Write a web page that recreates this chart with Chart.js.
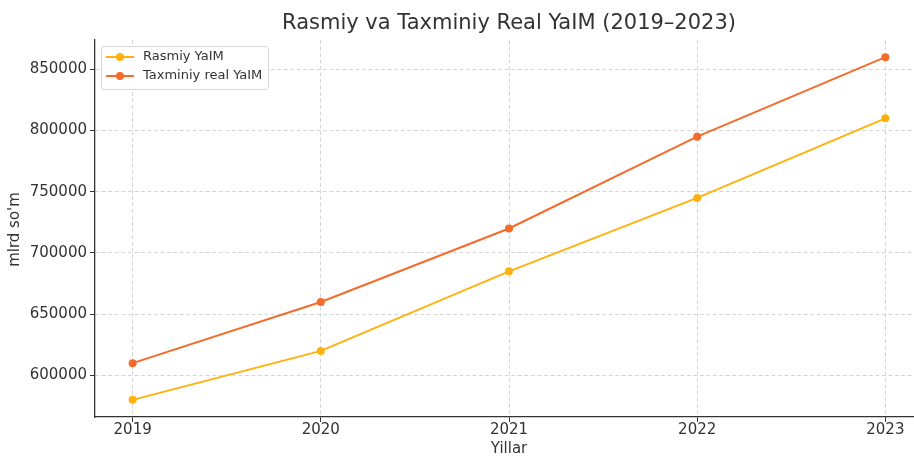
<!DOCTYPE html>
<html>
<head>
<meta charset="utf-8">
<script src="https://cdn.jsdelivr.net/npm/chart.js@4"></script>
<style>
html,body{margin:0;padding:0;overflow:hidden;background:#fff;}
#wrap{width:930px;height:456px;position:relative;}
</style>
</head>
<body>
<div id="wrap"><canvas id="c"></canvas></div>
<script>
const years = [2019, 2020, 2021, 2022, 2023];
const rasmiy = [580000, 620000, 685000, 745000, 810000];
const taxminiy = [610000, 660000, 720000, 795000, 860000];
const yTicks = [600000, 650000, 700000, 750000, 800000, 850000];
const titleText = 'Rasmiy va Taxminiy Real YaIM (2019–2023)';
const xTitle = 'Yillar';
const yTitle = "mlrd so'm";

const FONT = "'DejaVu Sans', sans-serif";
const TXT = '#333333';

const overlay = {
  id: 'overlay',
  afterDraw(chart) {
    const ctx = chart.ctx;
    const a = chart.chartArea;
    ctx.save();
    ctx.fillStyle = TXT;
    ctx.textAlign = 'center';
    ctx.textBaseline = 'middle';
    ctx.font = '21px ' + FONT;
    ctx.fillText(titleText, (a.left + a.right) / 2, 24);
    ctx.font = '15px ' + FONT;
    ctx.fillText(xTitle, (a.left + a.right) / 2, 449);
    ctx.translate(15.5, (a.top + a.bottom) / 2 + 1);
    ctx.rotate(-Math.PI / 2);
    ctx.fillText(yTitle, 0, 0);
    ctx.restore();

    // legend
    ctx.save();
    const bx = 101.5, by = 46.5, bw = 167, bh = 43, r = 3;
    ctx.beginPath();
    ctx.moveTo(bx + r, by);
    ctx.lineTo(bx + bw - r, by);
    ctx.quadraticCurveTo(bx + bw, by, bx + bw, by + r);
    ctx.lineTo(bx + bw, by + bh - r);
    ctx.quadraticCurveTo(bx + bw, by + bh, bx + bw - r, by + bh);
    ctx.lineTo(bx + r, by + bh);
    ctx.quadraticCurveTo(bx, by + bh, bx, by + bh - r);
    ctx.lineTo(bx, by + r);
    ctx.quadraticCurveTo(bx, by, bx + r, by);
    ctx.closePath();
    ctx.fillStyle = 'rgba(255,255,255,0.85)';
    ctx.fill();
    ctx.strokeStyle = '#d6d6d6';
    ctx.lineWidth = 1;
    ctx.stroke();
    chart.data.datasets.forEach((ds, i) => {
      const y = 57 + i * 19;
      ctx.strokeStyle = ds.borderColor;
      ctx.lineWidth = 2;
      ctx.beginPath();
      ctx.moveTo(106, y);
      ctx.lineTo(134, y);
      ctx.stroke();
      ctx.fillStyle = ds.borderColor;
      ctx.beginPath();
      ctx.arc(120, y, 4, 0, Math.PI * 2);
      ctx.fill();
      ctx.fillStyle = TXT;
      ctx.font = '13px ' + FONT;
      ctx.textAlign = 'left';
      ctx.textBaseline = 'middle';
      ctx.fillText(ds.label, 143, y);
    });
    ctx.restore();
  }
};

const mk = (arr) => arr.map((v, i) => ({ x: years[i], y: v }));

new Chart(document.getElementById('c'), {
  type: 'line',
  data: {
    datasets: [
      { label: 'Rasmiy YaIM', data: mk(rasmiy), borderColor: '#FFB20F', backgroundColor: '#FFB20F',
        borderWidth: 2, pointRadius: 4, pointHoverRadius: 4, pointBorderWidth: 0, tension: 0 },
      { label: 'Taxminiy real YaIM', data: mk(taxminiy), borderColor: '#F36C2B', backgroundColor: '#F36C2B',
        borderWidth: 2, pointRadius: 4, pointHoverRadius: 4, pointBorderWidth: 0, tension: 0 }
    ]
  },
  options: {
    responsive: true,
    maintainAspectRatio: false,
    animation: false,
    layout: { padding: { top: 40, right: 7, left: 0, bottom: 0 } },
    plugins: { legend: { display: false }, title: { display: false }, tooltip: { enabled: false } },
    scales: {
      x: {
        type: 'linear',
        min: 2018.8,
        max: 2023.2,
        afterBuildTicks: (s) => { s.ticks = years.map(v => ({ value: v })); },
        afterFit: (s) => { s.height = 39; },
        ticks: { color: TXT, font: { family: FONT, size: 15 }, padding: -1, maxRotation: 0,
                 callback: (v) => String(v) },
        grid: { color: '#d6d6d6', lineWidth: 1, drawTicks: true, tickLength: 5, tickColor: '#333', tickWidth: 1 },
        border: { display: true, color: '#333', width: 1.3, dash: [4, 2.5] }
      },
      y: {
        type: 'linear',
        min: 566000,
        max: 874000,
        afterBuildTicks: (s) => { s.ticks = yTicks.map(v => ({ value: v })); },
        afterFit: (s) => { s.width = 95; },
        ticks: { color: TXT, font: { family: FONT, size: 15 }, padding: 3,
                 callback: (v) => String(v) },
        grid: { color: '#d6d6d6', lineWidth: 1, drawTicks: true, tickLength: 5, tickColor: '#333', tickWidth: 1 },
        border: { display: true, color: '#333', width: 1.3, dash: [4, 2.5] }
      }
    }
  },
  plugins: [overlay]
});
</script>
</body>
</html>
